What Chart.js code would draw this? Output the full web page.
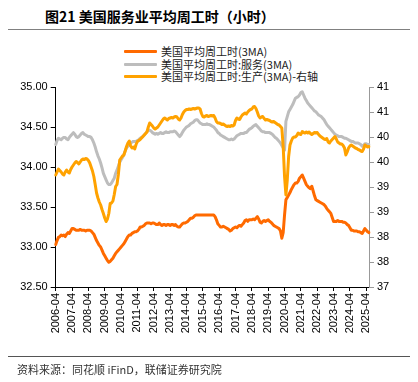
<!DOCTYPE html>
<html>
<head>
<meta charset="utf-8">
<script src="https://cdn.jsdelivr.net/npm/chart.js@4.4.1/dist/chart.umd.min.js"></script>
<style>
  html, body { margin: 0; padding: 0; background: #fff; }
  body { width: 418px; height: 382px; position: relative; overflow: hidden; font-family: "Liberation Sans", Arial, sans-serif; }
  #chart { position: absolute; left: 0; top: 0; }
  .title { position: absolute; left: 45px; top: 6px; font: bold 14px "Noto Sans CJK SC", sans-serif; color: #000; white-space: nowrap; }
  .rule { position: absolute; left: 8px; width: 402px; height: 0; }
  .legend { position: absolute; left: 124px; top: 45px; font: 11px "Noto Sans CJK SC", sans-serif; color: #222; }
  .legend div { height: 12.7px; line-height: 12.7px; white-space: nowrap; display: flex; align-items: center; }
  .legend span.sw { display: inline-block; width: 33px; height: 3px; margin-right: 4px; border-radius: 1px; }
  .source { position: absolute; left: 17px; top: 361px; font: 11px "Noto Sans CJK SC", sans-serif; color: #333; white-space: nowrap; }
</style>
</head>
<body>
<div class="title">图21 美国服务业平均周工时（小时）</div>
<div class="rule" style="top:29px; border-top:1.5px solid #808080;"></div>
<div class="legend">
  <div><span class="sw" style="background:#ff6a00"></span>美国平均周工时(3MA)</div>
  <div><span class="sw" style="background:#bdbdbd"></span>美国平均周工时:服务(3MA)</div>
  <div><span class="sw" style="background:#ffa200"></span>美国平均周工时:生产(3MA)-右轴</div>
</div>
<canvas id="chart" width="418" height="382"></canvas>
<div class="rule" style="top:356px; border-top:1px solid #555;"></div>
<div class="source">资料来源：同花顺 iFinD，联储证券研究院</div>

<script>
// ---------- datos (mensual, 2006-04 .. 2025-06) ----------
const mesInicio = { anio: 2006, mes: 4 };
const mesFin = { anio: 2025, mes: 6 };

// categorias: "AAAA-MM"
const meses = [];
for (let a = mesInicio.anio, m = mesInicio.mes; a < mesFin.anio || (a === mesFin.anio && m <= mesFin.mes); ) {
  meses.push(a + '-' + String(m).padStart(2, '0'));
  m++; if (m > 12) { m = 1; a++; }
}

// 美国平均周工时(3MA) - eje izquierdo
const horasTotal = [
  33.03,33.08,33.12,33.13,33.15,33.14,33.15,33.13,33.16,33.18,33.17,33.20,
  33.23,33.23,33.22,33.21,33.21,33.21,33.22,33.21,33.21,33.21,33.20,33.21,
  33.21,33.21,33.20,33.18,33.16,33.12,33.08,33.05,33.02,33.00,32.96,32.92,
  32.89,32.86,32.83,32.81,32.82,32.84,32.86,32.89,32.92,32.94,32.96,32.98,
  33.00,33.02,33.04,33.07,33.10,33.13,33.15,33.15,33.17,33.18,33.19,33.19,
  33.20,33.22,33.25,33.25,33.26,33.27,33.29,33.30,33.30,33.30,33.29,33.30,
  33.30,33.29,33.28,33.28,33.30,33.28,33.27,33.28,33.28,33.27,33.28,33.28,
  33.27,33.28,33.28,33.27,33.28,33.26,33.25,33.25,33.27,33.29,33.30,33.30,
  33.31,33.32,33.34,33.36,33.36,33.37,33.39,33.40,33.40,33.40,33.40,33.40,
  33.40,33.40,33.40,33.40,33.40,33.40,33.40,33.40,33.40,33.38,33.34,33.29,
  33.27,33.25,33.25,33.26,33.25,33.24,33.23,33.22,33.20,33.21,33.23,33.24,
  33.25,33.24,33.26,33.27,33.26,33.28,33.30,33.33,33.34,33.32,33.34,33.34,
  33.34,33.35,33.34,33.36,33.38,33.35,33.31,33.30,33.32,33.33,33.32,33.33,
  33.34,33.32,33.31,33.29,33.27,33.26,33.25,33.24,33.23,33.20,33.11,33.18,
  33.40,33.59,33.62,33.65,33.68,33.72,33.75,33.78,33.80,33.80,33.82,33.86,
  33.88,33.90,33.86,33.82,33.78,33.76,33.74,33.73,33.76,33.70,33.64,33.59,
  33.58,33.57,33.56,33.55,33.54,33.53,33.51,33.48,33.46,33.44,33.42,33.37,
  33.32,33.32,33.32,33.33,33.32,33.32,33.32,33.31,33.31,33.30,33.28,33.27,
  33.24,33.21,33.21,33.20,33.20,33.20,33.19,33.19,33.18,33.17,33.20,33.23,
  33.21,33.19,33.18
];

// 美国平均周工时:服务(3MA) - eje izquierdo
const horasServicios = [
  34.28,34.33,34.36,34.35,34.34,34.36,34.37,34.37,34.35,34.34,34.37,34.39,
  34.41,34.43,34.41,34.38,34.37,34.38,34.40,34.42,34.43,34.41,34.40,34.39,
  34.38,34.38,34.37,34.34,34.30,34.25,34.19,34.14,34.10,34.05,33.99,33.92,
  33.88,33.84,33.80,33.78,33.78,33.80,33.83,33.86,33.92,33.96,34.01,34.06,
  34.09,34.12,34.15,34.20,34.24,34.26,34.28,34.30,34.31,34.32,34.32,34.32,
  34.33,34.34,34.36,34.37,34.38,34.40,34.42,34.44,34.46,34.46,34.45,34.43,
  34.42,34.41,34.42,34.41,34.42,34.43,34.42,34.42,34.43,34.44,34.43,34.43,
  34.44,34.44,34.44,34.45,34.44,34.42,34.40,34.38,34.40,34.43,34.46,34.48,
  34.50,34.51,34.52,34.54,34.55,34.56,34.58,34.59,34.59,34.57,34.55,34.54,
  34.53,34.53,34.53,34.54,34.53,34.53,34.52,34.51,34.50,34.48,34.46,34.43,
  34.42,34.40,34.39,34.38,34.37,34.36,34.35,34.34,34.34,34.35,34.34,34.35,
  34.37,34.39,34.40,34.41,34.42,34.42,34.42,34.43,34.43,34.45,34.47,34.48,
  34.49,34.51,34.52,34.53,34.51,34.49,34.47,34.45,34.44,34.44,34.43,34.43,
  34.43,34.43,34.42,34.41,34.39,34.37,34.36,34.34,34.32,34.30,34.27,34.24,
  34.21,34.57,34.63,34.69,34.72,34.75,34.78,34.82,34.86,34.87,34.88,34.90,
  34.93,34.94,34.90,34.86,34.83,34.80,34.78,34.76,34.74,34.72,34.70,34.69,
  34.67,34.65,34.64,34.63,34.61,34.59,34.56,34.53,34.51,34.49,34.47,34.45,
  34.43,34.41,34.40,34.39,34.38,34.38,34.38,34.37,34.36,34.36,34.35,34.34,
  34.33,34.32,34.32,34.31,34.30,34.30,34.30,34.29,34.28,34.26,34.27,34.29,
  34.29,34.28,34.28
];

// 美国平均周工时:生产(3MA) - eje derecho
const horasProduccion = [
  39.24,39.30,39.36,39.33,39.30,39.26,39.24,39.30,39.34,39.30,39.28,39.35,
  39.40,39.44,39.48,39.51,39.49,39.46,39.50,39.54,39.56,39.55,39.57,39.56,
  39.53,39.48,39.40,39.32,39.21,39.05,38.88,38.78,38.70,38.64,38.55,38.47,
  38.38,38.31,38.36,38.47,38.67,38.68,38.72,38.85,39.01,39.05,39.25,39.54,
  39.58,39.62,39.64,39.72,39.81,39.88,39.92,39.82,39.78,39.80,39.76,39.85,
  39.91,39.93,39.95,39.98,40.01,40.04,40.07,40.10,40.20,40.28,40.25,40.22,
  40.18,40.16,40.18,40.20,40.24,40.28,40.32,40.36,40.38,40.36,40.34,40.37,
  40.38,40.39,40.38,40.40,40.41,40.40,40.36,40.34,40.38,40.45,40.50,40.53,
  40.55,40.55,40.56,40.55,40.56,40.57,40.56,40.57,40.58,40.58,40.56,40.47,
  40.41,40.40,40.42,40.43,40.41,40.42,40.43,40.42,40.43,40.38,40.31,40.28,
  40.28,40.27,40.25,40.26,40.24,40.22,40.21,40.22,40.21,40.23,40.22,40.24,
  40.33,40.38,40.36,40.35,40.40,40.44,40.46,40.48,40.46,40.50,40.53,40.55,
  40.56,40.60,40.61,40.57,40.50,40.42,40.38,40.40,40.41,40.37,40.34,40.35,
  40.34,40.33,40.31,40.30,40.31,40.29,40.27,40.25,40.24,40.21,40.18,39.81,
  39.21,38.84,39.14,39.61,39.84,39.92,39.98,40.00,40.00,40.03,40.08,40.06,
  40.05,40.11,40.09,40.08,40.10,40.08,40.10,40.07,40.05,40.07,40.09,40.08,
  40.09,40.05,40.02,40.00,39.98,39.96,39.95,39.97,39.90,39.88,39.92,39.95,
  39.98,40.01,39.96,39.90,39.88,39.86,39.86,39.83,39.78,39.64,39.70,39.78,
  39.82,39.84,39.82,39.80,39.78,39.77,39.75,39.74,39.72,39.71,39.76,39.84,
  39.82,39.80,39.81
];

// ticks de los ejes
const ticksIzq = { min: 32.5, max: 35.0, paso: 0.5 };
const ticksDer = { min: 37, max: 41, paso: 0.5 };

// ---------- grafico ----------
const fuenteEje = { family: '"Liberation Sans", Arial, sans-serif', size: 11 };

new Chart(document.getElementById('chart'), {
  type: 'line',
  data: {
    labels: meses,
    datasets: [
      { label: '美国平均周工时(3MA)', data: horasTotal, yAxisID: 'yIzq',
        borderColor: '#ff6a00', borderWidth: 3, order: 2 },
      { label: '美国平均周工时:服务(3MA)', data: horasServicios, yAxisID: 'yIzq',
        borderColor: '#bdbdbd', borderWidth: 3, order: 1 },
      { label: '美国平均周工时:生产(3MA)-右轴', data: horasProduccion, yAxisID: 'yDer',
        borderColor: '#ffa200', borderWidth: 3, order: 0 }
    ]
  },
  options: {
    responsive: false,
    devicePixelRatio: 1,
    animation: false,
    elements: { point: { radius: 0 }, line: { tension: 0, borderCapStyle: 'round', borderJoinStyle: 'round' } },
    layout: { padding: { top: 87, left: 0, right: 0, bottom: 0 } },
    plugins: { legend: { display: false }, tooltip: { enabled: false } },
    scales: {
      x: {
        afterFit: (s) => { s.height = 95; },
        grid: { drawOnChartArea: false, color: '#000', tickLength: 4 },
        border: { color: '#000', width: 1 },
        ticks: {
          autoSkip: false, maxRotation: 90, minRotation: 90, padding: 2,
          color: '#000', font: fuenteEje,
          callback: (v, i) => meses[i].endsWith('-04') ? meses[i] : null
        }
      },
      yIzq: {
        position: 'left',
        min: ticksIzq.min, max: ticksIzq.max,
        afterFit: (s) => { s.width = 55.7; },
        grid: { drawOnChartArea: false, color: '#000', tickLength: 5 },
        border: { color: '#000', width: 1 },
        ticks: { stepSize: ticksIzq.paso, padding: 3, color: '#000', font: fuenteEje,
          callback: (v) => Number(v).toFixed(2) }
      },
      yDer: {
        position: 'right',
        min: ticksDer.min, max: ticksDer.max,
        afterFit: (s) => { s.width = 49; },
        grid: { drawOnChartArea: false, color: '#999', tickLength: 5 },
        border: { color: '#999', width: 1 },
        ticks: { stepSize: ticksDer.paso, padding: 3, color: '#000', font: fuenteEje,
          callback: (v) => Math.round(v).toString() }
      }
    }
  }
});
</script>
</body>
</html>
